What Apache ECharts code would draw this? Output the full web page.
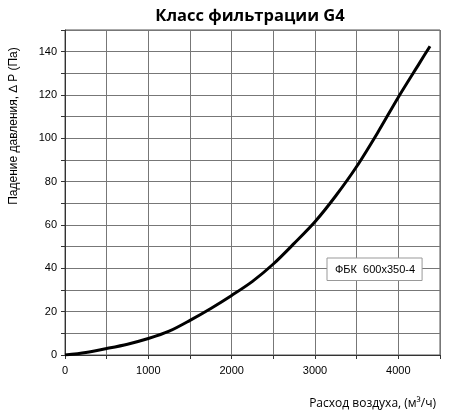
<!DOCTYPE html>
<html>
<head>
<meta charset="utf-8">
<script src="https://cdn.jsdelivr.net/npm/echarts@6/dist/echarts.min.js"></script>
<style>
  html, body { margin: 0; padding: 0; background: #fff; }
  #grafico { width: 451px; height: 420px; }
</style>
</head>
<body>
<div id="grafico"></div>
<script>
// DATOS
const flow = [0, 250, 500, 750, 1000, 1250, 1500, 1750, 2000, 2250, 2500, 2750, 3000, 3250, 3500, 3750, 4000, 4250, 4380];
const drop = [0, 1.2, 3, 5, 7.6, 11, 16, 21.5, 27.5, 34, 42, 51.5, 61.5, 73.5, 87, 102.5, 119, 134.5, 142.5];
const seriesName = "ФБК  600x350-4";
const xLabels = [0, 1000, 2000, 3000, 4000];
const yLabels = [0, 20, 40, 60, 80, 100, 120, 140];

const points = flow.map((x, i) => [x, drop[i]]);

let options = {
  animation: false,
  title: {
    text: "Класс фильтрации G4",
    left: 245,
    textAlign: "center",
    top: 3,
    textStyle: { fontFamily: "Open Sans", fontWeight: "bold", fontSize: 16.5, color: "#000" }
  },
  grid: {
    left: 65, right: 11, top: 30, bottom: 65,
    show: true, borderColor: "#555", borderWidth: 1
  },
  legend: {
    left: 327, top: 258,
    data: [{ name: seriesName, icon: "none" }],
    itemWidth: 0, itemGap: 0,
    borderColor: "#999", borderWidth: 1, padding: [5, 7, 5, 3],
    backgroundColor: "#fff",
    textStyle: { fontFamily: "Liberation Sans", fontSize: 11, color: "#000" }
  },
  xAxis: {
    type: "value", min: 0, max: 4500, interval: 500,
    axisLine: { lineStyle: { color: "#333" } },
    axisTick: { show: true, length: 4, lineStyle: { color: "#333" } },
    axisLabel: {
      margin: 10, color: "#000", fontFamily: "Liberation Sans", fontSize: 11,
      formatter: v => (xLabels.includes(v) ? String(v) : "")
    },
    splitLine: { lineStyle: { color: "#777", width: 1 } }
  },
  yAxis: {
    type: "value", min: 0, max: 150, interval: 10,
    axisLine: { show: true, lineStyle: { color: "#333" } },
    axisTick: { show: true, length: 4, lineStyle: { color: "#333" } },
    axisLabel: {
      margin: 8, color: "#000", fontFamily: "Liberation Sans", fontSize: 11,
      formatter: v => (yLabels.includes(v) ? String(v) : "")
    },
    splitLine: { lineStyle: { color: "#777", width: 1 } }
  },
  graphic: [
    {
      type: "text", x: 14, y: 126, rotation: Math.PI / 2,
      style: {
        text: "Падение давления, ∆ P (Па)",
        fontFamily: "Liberation Sans", fontSize: 12, fill: "#000",
        textAlign: "center", textVerticalAlign: "middle"
      }
    },
    {
      type: "text", x: 436, y: 404,
      style: {
        text: "Расход воздуха, (м³/ч)",
        fontFamily: "Open Sans", fontSize: 12, fill: "#000",
        textAlign: "right", textVerticalAlign: "middle"
      }
    }
  ],
  series: [
    {
      name: seriesName,
      type: "line",
      data: points,
      smooth: 0.3,
      showSymbol: false,
      lineStyle: { color: "#000", width: 3 },
      itemStyle: { color: "#000" }
    }
  ]
};

let chart = echarts.init(document.getElementById("grafico"));
chart.setOption(options);
</script>
</body>
</html>
